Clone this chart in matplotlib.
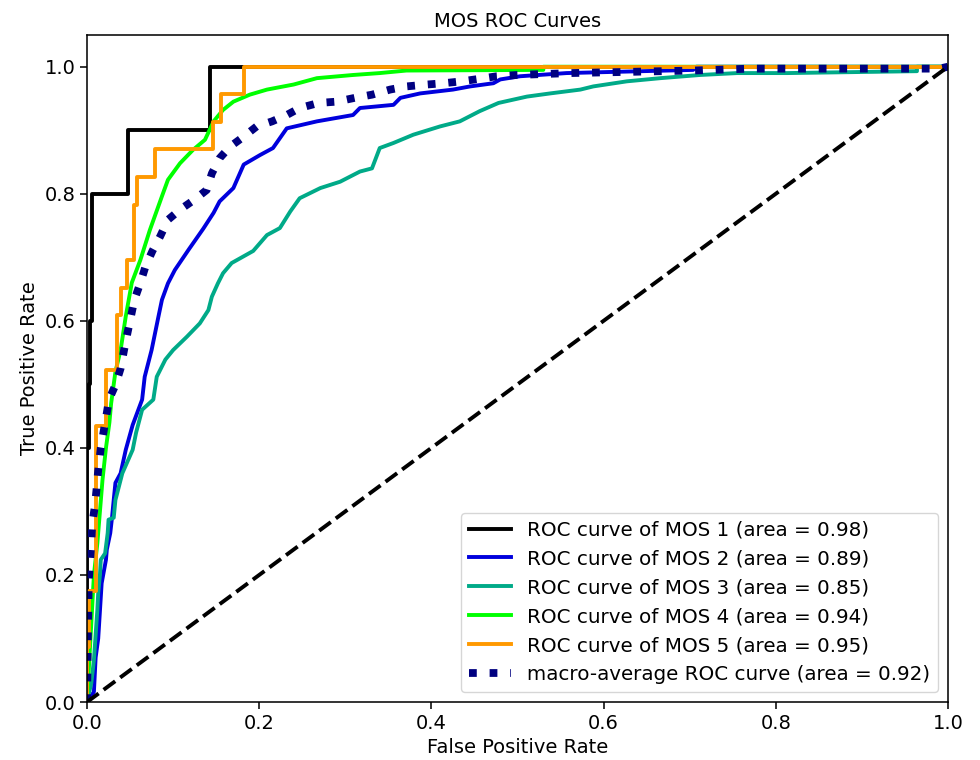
import numpy as np
import matplotlib
matplotlib.use('Agg')
import matplotlib.pyplot as plt

# ROC curves (fpr, tpr pairs)
mos1_fpr = [0, 0, 0.002, 0.002, 0.004, 0.004, 0.006, 0.006, 0.048, 0.048, 0.143, 0.143, 1.0]
mos1_tpr = [0, 0.4, 0.4, 0.5, 0.5, 0.6, 0.6, 0.8, 0.8, 0.9, 0.9, 1.0, 1.0]

mos2_fpr = [0, 0.008, 0.010, 0.013, 0.017, 0.022, 0.023, 0.027, 0.029, 0.031, 0.033,
            0.039, 0.045, 0.053, 0.064, 0.067, 0.075, 0.083, 0.087, 0.094, 0.102,
            0.118, 0.135, 0.147, 0.154, 0.170, 0.182, 0.201, 0.216, 0.232, 0.267,
            0.309, 0.317, 0.356, 0.364, 0.387, 0.425, 0.445, 0.472, 0.480, 0.503,
            0.557, 0.704, 0.708, 1.0]
mos2_tpr = [0, 0.016, 0.07, 0.10, 0.187, 0.224, 0.24, 0.266, 0.29, 0.318, 0.345,
            0.36, 0.397, 0.436, 0.476, 0.512, 0.554, 0.607, 0.633, 0.659, 0.680,
            0.712, 0.745, 0.770, 0.788, 0.809, 0.846, 0.861, 0.872, 0.903, 0.914,
            0.924, 0.935, 0.940, 0.951, 0.958, 0.964, 0.969, 0.974, 0.980, 0.985,
            0.990, 0.995, 1.0, 1.0]

mos3_fpr = [0, 0.005, 0.008, 0.012, 0.013, 0.015, 0.016, 0.021, 0.024, 0.025, 0.031,
            0.033, 0.041, 0.053, 0.057, 0.064, 0.077, 0.081, 0.091, 0.100, 0.116,
            0.131, 0.141, 0.145, 0.152, 0.158, 0.168, 0.193, 0.209, 0.224, 0.236,
            0.247, 0.271, 0.294, 0.317, 0.331, 0.340, 0.356, 0.379, 0.410, 0.433,
            0.456, 0.478, 0.511, 0.538, 0.573, 0.588, 0.627, 0.666, 0.712, 0.755,
            0.813, 0.964, 0.964, 1.0]
mos3_tpr = [0, 0.03, 0.066, 0.145, 0.172, 0.20, 0.224, 0.234, 0.266, 0.287, 0.29,
            0.318, 0.36, 0.397, 0.424, 0.46, 0.476, 0.512, 0.539, 0.554, 0.575,
            0.596, 0.617, 0.638, 0.659, 0.675, 0.691, 0.710, 0.735, 0.746, 0.772,
            0.793, 0.809, 0.819, 0.835, 0.840, 0.872, 0.880, 0.893, 0.906, 0.914,
            0.930, 0.943, 0.953, 0.958, 0.964, 0.969, 0.977, 0.982, 0.987, 0.990,
            0.990, 0.993, 1.0, 1.0]

mos4_fpr = [0, 0.002, 0.004, 0.006, 0.008, 0.012, 0.015, 0.018, 0.022, 0.026, 0.028,
            0.033, 0.039, 0.045, 0.052, 0.062, 0.073, 0.087, 0.094, 0.108, 0.123,
            0.137, 0.147, 0.158, 0.170, 0.189, 0.209, 0.240, 0.267, 0.309, 0.340,
            0.371, 0.53, 0.53, 1.0]
mos4_tpr = [0, 0.05, 0.10, 0.15, 0.20, 0.25, 0.30, 0.35, 0.40, 0.44, 0.47,
            0.52, 0.554, 0.607, 0.66, 0.696, 0.743, 0.796, 0.822, 0.848, 0.869,
            0.885, 0.914, 0.932, 0.945, 0.956, 0.964, 0.972, 0.982, 0.987, 0.990,
            0.994, 0.995, 1.0, 1.0]

mos5_fpr = [0, 0, 0.002, 0.002, 0.010, 0.010, 0.022, 0.022, 0.035, 0.035, 0.040, 0.040,
            0.046, 0.046, 0.055, 0.055, 0.058, 0.058, 0.079, 0.079, 0.146, 0.146,
            0.156, 0.156, 0.182, 0.182, 1.0]
mos5_tpr = [0, 0.087, 0.087, 0.174, 0.174, 0.435, 0.435, 0.522, 0.522, 0.609, 0.609,
            0.652, 0.652, 0.696, 0.696, 0.783, 0.783, 0.826, 0.826, 0.870, 0.870,
            0.913, 0.913, 0.957, 0.957, 1.0, 1.0]

macro_fpr = [0, 0.001, 0.002, 0.005, 0.006, 0.009, 0.011, 0.013, 0.016, 0.022, 0.0255,
             0.033, 0.039, 0.043, 0.047, 0.051, 0.055, 0.062, 0.068, 0.076, 0.085,
             0.094, 0.108, 0.125, 0.139, 0.145, 0.154, 0.166, 0.182, 0.197, 0.215,
             0.232, 0.247, 0.269, 0.290, 0.311, 0.331, 0.352, 0.371, 0.395, 0.414,
             0.435, 0.456, 0.476, 0.499, 0.561, 0.704, 0.77, 0.99, 1.0]
macro_tpr = [0, 0.10, 0.19, 0.25, 0.28, 0.307, 0.334, 0.365, 0.40, 0.447, 0.476,
             0.499, 0.525, 0.554, 0.581, 0.607, 0.633, 0.66, 0.686, 0.71, 0.733,
             0.759, 0.775, 0.791, 0.806, 0.832, 0.856, 0.874, 0.890, 0.906, 0.914,
             0.924, 0.935, 0.943, 0.945, 0.951, 0.956, 0.964, 0.969, 0.972, 0.974,
             0.977, 0.981, 0.985, 0.987, 0.990, 0.994, 0.997, 0.997, 1.0]

classes = ['MOS 1', 'MOS 2', 'MOS 3', 'MOS 4', 'MOS 5']
areas = [0.98, 0.89, 0.85, 0.94, 0.95]
macro_area = 0.92

curves = [(mos1_fpr, mos1_tpr), (mos2_fpr, mos2_tpr), (mos3_fpr, mos3_tpr),
          (mos4_fpr, mos4_tpr), (mos5_fpr, mos5_tpr)]

# reference was rendered ~1.4x larger than default, scale strokes to match
s = 1.4

fig, ax = plt.subplots(figsize=(9.8, 7.6), dpi=100)
fig.subplots_adjust(left=0.0888, right=0.9673, bottom=0.0763, top=0.954)

cmap = plt.get_cmap('nipy_spectral')
for i, (fpr, tpr) in enumerate(curves):
    color = cmap(float(i) / len(classes))
    ax.plot(fpr, tpr, lw=2 * s, color=color,
            label='ROC curve of {0} (area = {1:0.2f})'.format(classes[i], areas[i]))

ax.plot(macro_fpr, macro_tpr,
        label='macro-average ROC curve (area = {0:0.2f})'.format(macro_area),
        color='navy', linestyle=':', linewidth=4 * s)

ax.plot([0, 1], [0, 1], 'k--', lw=2 * s)
ax.set_xlim([0.0, 1.0])
ax.set_ylim([0.0, 1.05])
ax.set_xlabel('False Positive Rate', fontsize=14)
ax.set_ylabel('True Positive Rate', fontsize=14)
ax.set_title('MOS ROC Curves', fontsize=14)
ax.tick_params(labelsize=14, length=3.5 * s, width=0.8 * s)
for sp in ax.spines.values():
    sp.set_linewidth(0.8 * s)
ax.legend(loc='lower right', fontsize=14.3, handlelength=2.1)

plt.savefig('out.png', dpi=100)
